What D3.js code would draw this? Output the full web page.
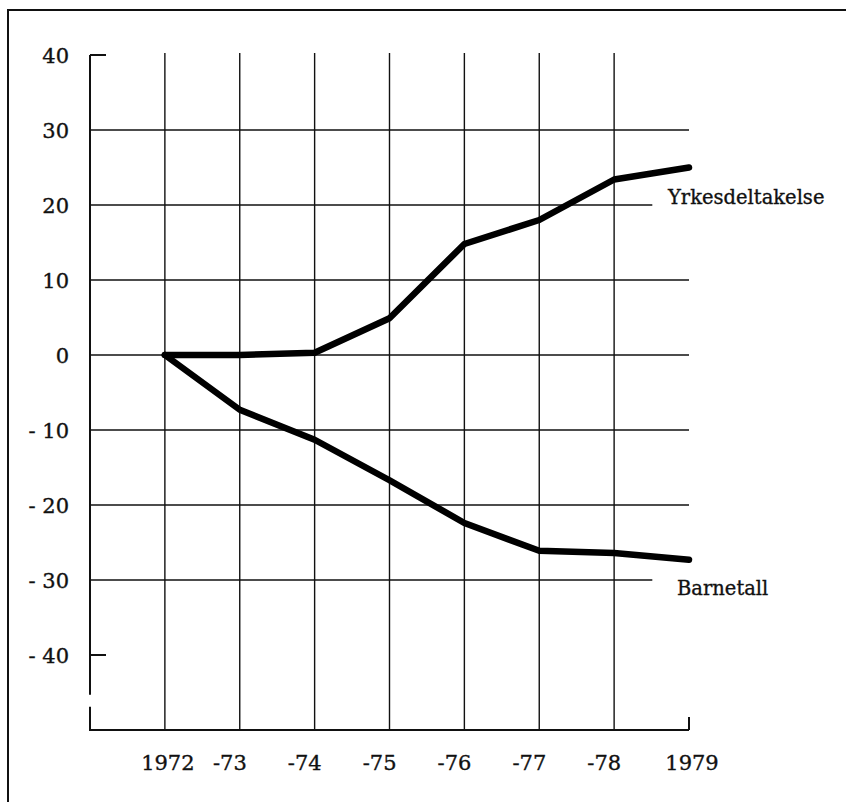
<!DOCTYPE html>
<html>
<head>
<meta charset="utf-8">
<script src="https://cdn.jsdelivr.net/npm/d3@7"></script>
<style>
  body { margin: 0; background: #fff; }
  text { font-family: "DejaVu Serif", serif; fill: #111; stroke: #111; stroke-width: 0.35px; }
</style>
</head>
<body>
<div class="chart"></div>
<script>
// index 1972 = 100, change in percent
const years = [1972, 1973, 1974, 1975, 1976, 1977, 1978, 1979]
const yearLabels = ["1972", "-73", "-74", "-75", "-76", "-77", "-78", "1979"]
const yrkesdeltakelse = [0, 0, 0.3, 4.9, 14.8, 18, 23.4, 25]
const barnetall = [0, -7.3, -11.3, -16.7, -22.4, -26.1, -26.4, -27.3]
const yTicks = [40, 30, 20, 10, 0, -10, -20, -30, -40]
const yTickLabels = ["40", "30", "20", "10", "0", "- 10", "- 20", "- 30", "- 40"]

const width = 846
const height = 802
const svg = d3.select(".chart").append("svg")
    .attr("width", width)
    .attr("height", height)
    .attr("viewBox", [0, 0, width, height])

// outer frame (runs off the right and bottom edges)
svg.append("rect")
    .attr("x", 8).attr("y", 10)
    .attr("width", 860).attr("height", 820)
    .attr("fill", "none")
    .attr("stroke", "#111")
    .attr("stroke-width", 2)

const x = d3.scaleLinear().domain([1971, 1979]).range([90, 689])
const y = d3.scaleLinear().domain([-50, 40]).range([730, 55])

const grid = svg.append("g").attr("stroke", "#111").attr("stroke-width", 1.4)

// horizontal grid lines (short ones where the labels sit)
grid.selectAll(".hline")
    .data(yTicks.filter(d => Math.abs(d) < 40))
    .join("line")
    .attr("class", "hline")
    .attr("x1", x(1971))
    .attr("x2", d => (d === 20 || d === -30) ? x(1978.51) : x(1979))
    .attr("y1", d => y(d))
    .attr("y2", d => y(d))

// small ticks at 40 and -40
grid.selectAll(".tick40")
    .data([40, -40])
    .join("line")
    .attr("x1", x(1971)).attr("x2", x(1971) + 16)
    .attr("y1", d => y(d)).attr("y2", d => y(d))
    .attr("stroke-width", 2)

// vertical grid lines
grid.selectAll(".vline")
    .data(years.slice(0, -1))
    .join("line")
    .attr("x1", d => x(d)).attr("x2", d => x(d))
    .attr("y1", y(40) - 2)
    .attr("y2", y(-50))

// last year only a short tick
grid.append("line")
    .attr("x1", x(1979)).attr("x2", x(1979))
    .attr("y1", y(-50) - 13).attr("y2", y(-50))
    .attr("stroke-width", 2)

// axes
const axes = svg.append("g").attr("stroke", "#111").attr("stroke-width", 2).attr("fill", "none")
axes.append("path")
    .attr("d", `M${x(1971)},${y(40)}V${y(-45.3)}M${x(1971)},${y(-46.9)}V${y(-50)}H${x(1979)}`)

// y labels
svg.append("g").selectAll("text")
    .data(yTicks)
    .join("text")
    .attr("x", 69)
    .attr("y", d => y(d))
    .attr("dy", "0.36em")
    .attr("text-anchor", "end")
    .style("font-size", "21px")
    .text((d, i) => yTickLabels[i])

// x labels
svg.append("g").selectAll("text")
    .data(years)
    .join("text")
    .attr("x", (d, i) => yearLabels[i].startsWith("-") ? x(d) + 7 : x(d) + 3)
    .attr("y", 770)
    .attr("text-anchor", (d, i) => yearLabels[i].startsWith("-") ? "end" : "middle")
    .style("font-size", "21px")
    .text((d, i) => yearLabels[i])

// data lines
const line = d3.line()
    .x((d, i) => x(years[i]))
    .y(d => y(d))

svg.selectAll(".series")
    .data([yrkesdeltakelse, barnetall])
    .join("path")
    .attr("class", "series")
    .attr("d", line)
    .attr("fill", "none")
    .attr("stroke", "#000")
    .attr("stroke-width", 6.5)
    .attr("stroke-linejoin", "round")
    .attr("stroke-linecap", "round")

svg.append("text")
    .attr("x", x(1979) - 21)
    .attr("y", y(20) - 1)
    .style("font-size", "19.5px")
    .text("Yrkesdeltakelse")

svg.append("text")
    .attr("x", x(1979) - 12)
    .attr("y", y(-30) + 15)
    .style("font-size", "19.5px")
    .text("Barnetall")
</script>
</body>
</html>
